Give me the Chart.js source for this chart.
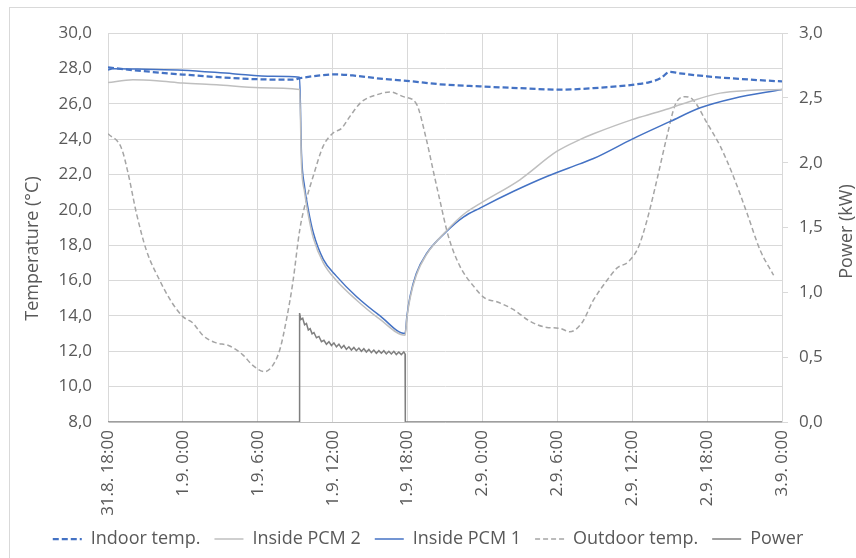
<!DOCTYPE html>
<html>
<head>
<meta charset="utf-8">
<script src="https://cdn.jsdelivr.net/npm/chart.js@4.4.1/dist/chart.umd.min.js"></script>
<style>
  body { margin: 0; overflow: hidden; background: #fff; }
  #frame { position: absolute; left: 9px; top: 7px; width: 900px; height: 600px; border: 1px solid #D9D9D9; }
  #chartCanvas { position: absolute; left: 0; top: 0; }
</style>
</head>
<body>
<div id="frame"></div>
<canvas id="chartCanvas" width="856" height="558"></canvas>
<script>
// hours counted from 31.8. 18:00
var xTickLabels = ['31.8. 18:00', '1.9. 0:00', '1.9. 6:00', '1.9. 12:00', '1.9. 18:00',
                   '2.9. 0:00', '2.9. 6:00', '2.9. 12:00', '2.9. 18:00', '3.9. 0:00'];

var indoorHours = [0, 2.0, 6.0, 11.4, 14.8, 15.4, 17.0, 18.3, 19.6, 21.8, 24.4, 26.6, 29.8, 33.0, 36.2, 38.9, 42.6, 43.4, 44.3, 45.0, 45.8, 48.0, 51.5, 54];
var indoorTemp  = [28.05, 27.9, 27.65, 27.4, 27.36, 27.45, 27.6, 27.66, 27.6, 27.42, 27.26, 27.1, 26.98, 26.88, 26.8, 26.88, 27.12, 27.22, 27.45, 27.8, 27.72, 27.55, 27.36, 27.26];

var pcm2Hours = [0, 2.0, 3.9, 6.0, 8.7, 12.2, 15.35, 15.5, 15.75, 16.05, 16.45, 17.25, 18.3, 19.9, 21.8, 23.8, 23.95, 24.2, 24.7, 25.5, 27.1, 28.5, 29.8, 33.0, 35.95, 37.8, 38.9, 42.0, 44.25, 46.5, 49.05, 51.2, 54];
var pcm2Temp  = [27.2, 27.35, 27.3, 27.17, 27.07, 26.9, 26.8, 22.6, 21.0, 19.7, 18.4, 17.0, 16.0, 14.9, 13.8, 12.9, 13.9, 15.0, 16.3, 17.45, 18.8, 19.75, 20.35, 21.7, 23.3, 23.97, 24.3, 25.1, 25.57, 26.1, 26.6, 26.75, 26.8];

var pcm1Hours = [0, 0.4, 3.0, 6.0, 10.0, 13.2, 15.35, 15.5, 15.75, 16.05, 16.45, 17.25, 18.3, 19.9, 21.8, 23.8, 23.95, 24.2, 24.7, 25.5, 27.1, 28.5, 29.8, 32.5, 35.2, 37.8, 38.9, 42.0, 45.05, 47.45, 50.1, 54];
var pcm1Temp  = [27.9, 27.98, 27.95, 27.9, 27.7, 27.55, 27.5, 23.2, 21.3, 20.0, 18.7, 17.2, 16.25, 15.1, 14.0, 13.0, 14.0, 15.1, 16.4, 17.5, 18.76, 19.6, 20.1, 21.05, 21.9, 22.6, 22.9, 24.0, 25.0, 25.77, 26.3, 26.8];

var outdoorHours = [0, 1.07, 1.6, 2.28, 3.08, 4.15, 5.08, 6.0, 6.8, 7.6, 8.55, 9.75, 10.8, 11.6, 12.55, 13.1, 13.77, 14.3, 14.8, 15.37, 15.9, 16.44, 17.24, 18.04, 18.7, 19.4, 20.3, 21.5, 22.6, 23.66, 24.7, 25.5, 26.06, 26.6, 27.27, 28.2, 29.27, 30.2, 31.15, 32.5, 33.8, 35.16, 36.2, 37.0, 37.96, 38.9, 39.97, 40.77, 41.7, 42.5, 43.18, 43.98, 44.78, 45.45, 46.25, 46.9, 48.0, 49.05, 50.1, 51.2, 52.26, 53.33];
var outdoorTemp  = [24.3, 23.5, 22.1, 19.8, 17.7, 16.0, 14.8, 13.96, 13.6, 12.9, 12.5, 12.3, 11.8, 11.2, 10.85, 11.1, 12.1, 13.8, 15.85, 18.9, 20.6, 21.9, 23.6, 24.35, 24.6, 25.3, 26.1, 26.5, 26.67, 26.4, 26.0, 24.0, 22.2, 20.5, 18.5, 16.8, 15.7, 15.0, 14.8, 14.35, 13.7, 13.35, 13.3, 13.1, 13.6, 14.9, 16.0, 16.7, 17.07, 17.9, 19.4, 21.7, 24.15, 25.95, 26.4, 26.2, 24.9, 23.6, 21.9, 19.8, 17.7, 16.3];

var powerHours = [0, 15.33, 15.35, 15.45, 15.6, 15.75, 15.9, 16.05, 16.2, 16.35, 16.5, 16.7, 16.9, 17.1, 17.3, 17.5, 17.7, 17.9, 18.1, 18.3, 18.5, 18.7, 18.9, 19.1, 19.3, 19.5, 19.7, 19.9, 20.1, 20.3, 20.5, 20.7, 20.9, 21.1, 21.3, 21.5, 21.7, 21.9, 22.1, 22.3, 22.5, 22.7, 22.9, 23.1, 23.3, 23.5, 23.7, 23.8, 23.82, 54];
var powerKW    = [0, 0, 0.84, 0.79, 0.80, 0.75, 0.76, 0.71, 0.72, 0.68, 0.69, 0.65, 0.66, 0.62, 0.63, 0.60, 0.62, 0.59, 0.61, 0.58, 0.60, 0.57, 0.59, 0.56, 0.58, 0.555, 0.575, 0.55, 0.57, 0.545, 0.565, 0.54, 0.56, 0.535, 0.555, 0.53, 0.55, 0.53, 0.55, 0.525, 0.545, 0.525, 0.545, 0.52, 0.54, 0.52, 0.54, 0.525, 0, 0];

var textColor = '#595959';
var gridColor = '#D9D9D9';
var fontFamily = "'Open Sans', 'Noto Sans', sans-serif";

function xy(hours, vals) {
    return hours.map(function(h, i) { return {x: h, y: vals[i]}; });
}

function comma(v) {
    return v.toFixed(1).replace('.', ',');
}

// both axis titles read bottom-to-top, like Excel does it
var axisTitles = {
    id: 'axisTitles',
    afterDraw: function(chart) {
        var c = chart.ctx;
        var area = chart.chartArea;
        var mid = (area.top + area.bottom) / 2;
        c.save();
        c.fillStyle = textColor;
        c.font = '18px ' + fontFamily;
        c.textAlign = 'center';
        c.textBaseline = 'middle';
        [[33, mid + 21, 'Temperature (°C)'], [847, mid + 4, 'Power (kW)']].forEach(function(t) {
            c.save();
            c.translate(t[0], t[1]);
            c.rotate(-Math.PI / 2);
            c.fillText(t[2], 0, 0);
            c.restore();
        });
        c.restore();
    }
};

var ctx = document.getElementById('chartCanvas').getContext('2d');
window.tempChart = new Chart(ctx, {
    type: 'line',
    data: {
        datasets: [
            {
                label: 'Indoor temp.',
                data: xy(indoorHours, indoorTemp),
                borderColor: '#4472C4',
                borderWidth: 2.25,
                borderDash: [6, 3],
                cubicInterpolationMode: 'monotone',
                yAxisID: 'y'
            },
            {
                label: 'Inside PCM 2',
                data: xy(pcm2Hours, pcm2Temp),
                borderColor: '#BFBFBF',
                borderWidth: 1.5,
                cubicInterpolationMode: 'monotone',
                yAxisID: 'y'
            },
            {
                label: 'Inside PCM 1',
                data: xy(pcm1Hours, pcm1Temp),
                borderColor: '#4472C4',
                borderWidth: 1.5,
                cubicInterpolationMode: 'monotone',
                yAxisID: 'y'
            },
            {
                label: 'Outdoor temp.',
                data: xy(outdoorHours, outdoorTemp),
                borderColor: '#A5A5A5',
                borderWidth: 1.5,
                borderDash: [5, 3],
                cubicInterpolationMode: 'monotone',
                yAxisID: 'y'
            },
            {
                label: 'Power',
                data: xy(powerHours, powerKW),
                borderColor: '#7F7F7F',
                borderWidth: 1.5,
                yAxisID: 'y2'
            }
        ]
    },
    plugins: [axisTitles],
    options: {
        responsive: false,
        animation: false,
        layout: { padding: { top: 33, bottom: 0, left: 0, right: 0 } },
        elements: { point: { radius: 0 } },
        plugins: {
            tooltip: { enabled: false },
            legend: {
                position: 'bottom',
                labels: {
                    usePointStyle: true,
                    pointStyle: 'line',
                    pointStyleWidth: 29,
                    padding: 14,
                    color: textColor,
                    font: { family: fontFamily, size: 18 },
                    generateLabels: function(chart) {
                        var items = Chart.defaults.plugins.legend.labels.generateLabels(chart);
                        items.forEach(function(item) {
                            var ds = chart.data.datasets[item.datasetIndex];
                            item.lineDash = ds.borderDash || [];
                            item.lineWidth = ds.borderWidth;
                            item.strokeStyle = ds.borderColor;
                        });
                        return items;
                    }
                }
            }
        },
        scales: {
            x: {
                type: 'linear',
                min: 0,
                max: 54,
                afterFit: function(scale) { scale.height = 94; },
                ticks: {
                    stepSize: 6,
                    minRotation: 90,
                    maxRotation: 90,
                    padding: 8,
                    color: textColor,
                    font: { family: fontFamily, size: 17 },
                    callback: function(v) { return xTickLabels[Math.round(v / 6)]; }
                },
                grid: { color: gridColor, drawTicks: false },
                border: { color: '#BFBFBF' }
            },
            y: {
                position: 'left',
                min: 8,
                max: 30,
                afterFit: function(scale) { scale.width = 108; },
                ticks: {
                    stepSize: 2,
                    padding: 16,
                    color: textColor,
                    font: { family: fontFamily, size: 17 },
                    callback: function(v) { return comma(v); }
                },
                grid: { color: gridColor, drawTicks: false },
                border: { color: gridColor }
            },
            y2: {
                position: 'right',
                min: 0,
                max: 3,
                afterFit: function(scale) { scale.width = 74; },
                ticks: {
                    stepSize: 0.5,
                    padding: 11,
                    color: textColor,
                    font: { family: fontFamily, size: 17 },
                    callback: function(v) { return comma(v); }
                },
                grid: { drawOnChartArea: false, color: gridColor, tickLength: 6 },
                border: { color: gridColor }
            }
        }
    }
});
</script>
</body>
</html>
